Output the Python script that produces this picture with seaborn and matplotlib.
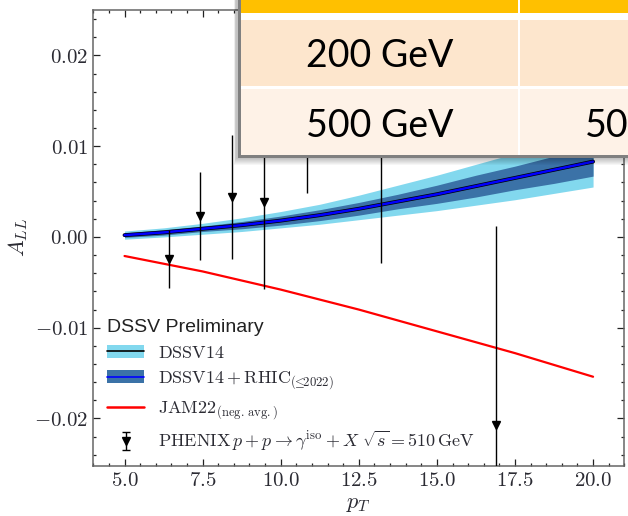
import numpy as np
import pandas as pd
import seaborn as sns
import matplotlib
matplotlib.use("Agg")
import matplotlib.pyplot as plt
from matplotlib.patches import Patch, Rectangle
from matplotlib.lines import Line2D
from matplotlib.ticker import MultipleLocator, FuncFormatter

# ---------------- data ----------------
pt_grid = [5.0, 6.25, 7.5, 8.75, 10.0, 11.25, 12.5, 13.75, 15.0, 16.25, 17.5, 18.75, 20.0]
dssv14_center = [0.0002, 0.0005, 0.0009, 0.0013, 0.0018, 0.0024, 0.0031, 0.0039, 0.0047, 0.0056, 0.0065, 0.0074, 0.0083]
dssv14_low = [-0.00025, 0.0000, 0.0003, 0.0006, 0.0010, 0.0014, 0.0019, 0.0024, 0.0029, 0.0035, 0.0041, 0.0048, 0.0055]
dssv14_high = [0.00065, 0.0010, 0.0015, 0.0021, 0.0028, 0.0036, 0.0046, 0.0057, 0.0068, 0.0080, 0.0092, 0.0104, 0.0116]
rhic_center = [0.0002, 0.0005, 0.0009, 0.0013, 0.0018, 0.0024, 0.0031, 0.0039, 0.0047, 0.0056, 0.0065, 0.0074, 0.0083]
rhic_low = [-0.00005, 0.0002, 0.0006, 0.0009, 0.0013, 0.0018, 0.0024, 0.0031, 0.0037, 0.0044, 0.0052, 0.0059, 0.0067]
rhic_high = [0.00045, 0.0008, 0.0012, 0.0017, 0.0023, 0.0030, 0.0038, 0.0047, 0.0057, 0.0068, 0.0078, 0.0089, 0.0099]

jam_pt = [5.0, 7.5, 10.0, 12.5, 15.0, 17.5, 20.0]
jam_all = [-0.0021, -0.0038, -0.0058, -0.0080, -0.0104, -0.0128, -0.0154]

phenix_pt = [6.42, 7.43, 8.45, 9.45, 10.85, 13.22, 16.90]
phenix_all = [-0.0024, 0.0023, 0.0044, 0.0039, 0.0160, 0.0165, -0.0207]
phenix_err = [0.0032, 0.0048, 0.0068, 0.0096, 0.0112, 0.0194, 0.0219]

legend_title = "DSSV Preliminary"
legend_labels = [
    r"$\mathrm{DSSV14}$",
    r"$\mathrm{DSSV14} + \mathrm{RHIC}_{(\!\!\leq\!\!2022)}$",
    r"$\mathrm{JAM22}_{(\mathrm{neg.\,avg.})}$",
    r"$\mathrm{PHENIX}\, p + p \rightarrow \gamma^{\mathrm{iso}} + X\ \sqrt{s} = 510\,\mathrm{GeV}$",
]
table_col1 = ["200 GeV", "500 GeV"]
table_col2 = ["", "50"]

# ---------------- style ----------------
sns.set_style("ticks")
plt.rcParams["mathtext.fontset"] = "cm"
plt.rcParams["font.family"] = ["DejaVu Serif"]

light_blue = "#82D8EE"
dark_blue = "#3B72A7"
text_col = "#2b2b33"

fig = plt.figure(figsize=(6.28, 5.16), dpi=100)
ax = fig.add_axes([93.3 / 628, 50.3 / 516, 531 / 628, 455.7 / 516])

df_band = pd.DataFrame({"pt": pt_grid, "c14": dssv14_center, "cr": rhic_center})
df_jam = pd.DataFrame({"pt": jam_pt, "a": jam_all})

ax.fill_between(pt_grid, dssv14_low, dssv14_high, color=light_blue, lw=0, zorder=1)
ax.fill_between(pt_grid, rhic_low, rhic_high, color=dark_blue, lw=0, zorder=2)
sns.lineplot(data=df_band, x="pt", y="c14", color="black", lw=2.8, ax=ax, zorder=3)
sns.lineplot(data=df_band, x="pt", y="cr", color="#0000FF", lw=1.8, ax=ax, zorder=4)
sns.lineplot(data=df_jam, x="pt", y="a", color="#FF0000", lw=1.6, ax=ax, zorder=4)

ax.errorbar(phenix_pt, phenix_all, yerr=phenix_err, fmt="v", color="black",
            ms=5.5, elinewidth=1.0, capsize=0, zorder=5)
eb_proxy = ax.errorbar([np.nan], [np.nan], yerr=[1.0], fmt="v", color="black", ms=5.5,
                       elinewidth=1.0, capsize=3, capthick=1.0)

ax.set_xlim(4.0, 21.0)
ax.set_ylim(-0.0252, 0.025)
ax.xaxis.set_major_locator(MultipleLocator(2.5))
ax.xaxis.set_minor_locator(MultipleLocator(0.5))
ax.yaxis.set_major_locator(MultipleLocator(0.01))
ax.yaxis.set_minor_locator(MultipleLocator(0.002))
ax.xaxis.set_major_formatter(FuncFormatter(lambda v, p: f"${v:.1f}$"))
ax.yaxis.set_major_formatter(FuncFormatter(lambda v, p: f"${v:.2f}$"))
ax.tick_params(which="both", direction="in", top=True, right=True, color="#222222",
               labelsize=15, labelcolor=text_col, width=0.9)
ax.tick_params(which="major", length=5)
ax.tick_params(which="minor", length=2.5)
for s in ax.spines.values():
    s.set_color("#666666")
    s.set_linewidth(1.1)
ax.set_xlabel(r"$p_T$", fontsize=16, color=text_col, labelpad=2)
ax.set_ylabel(r"$A_{LL}$", fontsize=16, color=text_col, labelpad=3)

handles = [
    (Patch(facecolor=light_blue, edgecolor="none"), Line2D([], [], color="black", lw=1.2)),
    (Patch(facecolor=dark_blue, edgecolor="none"), Line2D([], [], color="#0000FF", lw=1.2)),
    Line2D([], [], color="#FF0000", lw=1.8),
    eb_proxy,
]
leg = ax.legend(handles, legend_labels, title=legend_title, loc="upper left",
                bbox_to_anchor=(0.025, 0.322), frameon=False, fontsize=13,
                title_fontproperties={"family": "Liberation Sans", "size": 14},
                alignment="left", handlelength=2.1, handletextpad=0.75,
                labelspacing=0.42, borderaxespad=0, borderpad=0)
for t in leg.get_texts():
    t.set_color(text_col)
leg.get_title().set_color("#222222")

# ---------------- overlaid table (pixel coordinates) ----------------
ov = fig.add_axes([0, 0, 1, 1], zorder=10)
ov.set_xlim(0, 628)
ov.set_ylim(516, 0)
ov.axis("off")
ov.patch.set_alpha(0)
for k in range(1, 8):
    ov.add_patch(Rectangle((236 - k * 0.3, -10), 420, 168 + k, fc="black", alpha=0.035, lw=0))
ov.add_patch(Rectangle((238, -10), 420, 168, fc="#808080", lw=0))
ov.add_patch(Rectangle((241, -10), 420, 165, fc="white", lw=0))
col_x = [(241, 517.5), (520, 660)]
for x0, x1 in col_x:
    ov.add_patch(Rectangle((x0, -10), x1 - x0, 22.5, fc="#FFC000", lw=0))
    ov.add_patch(Rectangle((x0, 20), x1 - x0, 66, fc="#FDE6CD", lw=0))
    ov.add_patch(Rectangle((x0, 88.5), x1 - x0, 66.5, fc="#FEF2E7", lw=0))
row_base = [66.7, 136.7]
for lab, yb in zip(table_col1, row_base):
    ov.text(379.5, yb, lab, ha="center", va="baseline", fontsize=27,
            family="Lato", color="black")
for lab, yb in zip(table_col2, row_base):
    if lab:
        ov.text(585, yb, lab, ha="left", va="baseline", fontsize=27,
                family="Lato", color="black")

fig.savefig("out.png", dpi=100)
